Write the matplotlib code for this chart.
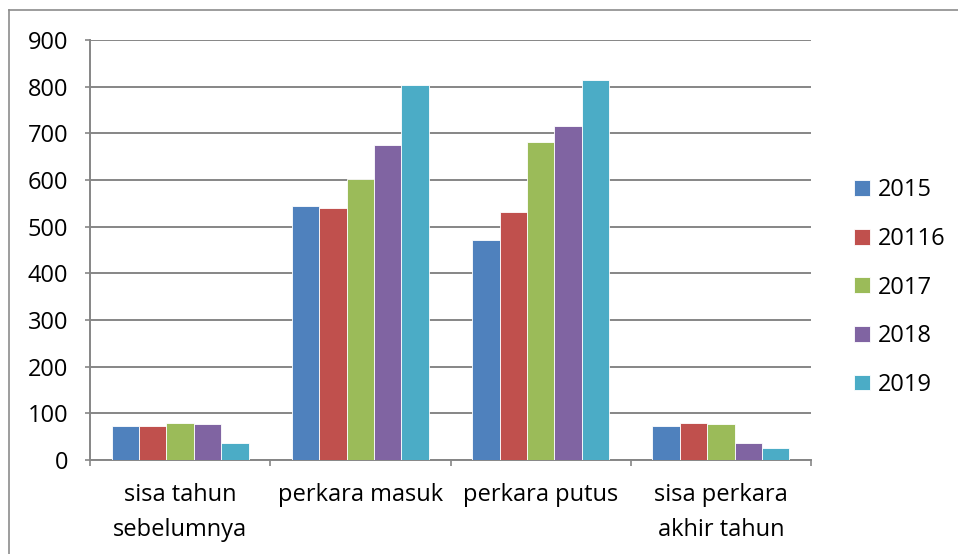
import matplotlib
matplotlib.use("Agg")
import matplotlib.pyplot as plt
import numpy as np
from matplotlib.lines import Line2D

plt.rcParams.update({"font.family": ["Open Sans", "DejaVu Sans"]})

categories = ["sisa tahun\nsebelumnya", "perkara masuk", "perkara putus",
              "sisa perkara\nakhir tahun"]
series_names = ["2015", "20116", "2017", "2018", "2019"]
v2015 = [72, 544, 472, 72]
v2016 = [72, 539, 532, 80]
v2017 = [80, 602, 682, 78]
v2018 = [78, 676, 716, 37]
v2019 = [37, 803, 814, 25]
values = [v2015, v2016, v2017, v2018, v2019]
colors = ["#4F81BD", "#C0504D", "#9BBB59", "#8064A2", "#4BACC6"]
GRID = "#868686"
FS = 17

W, H = 958, 554
fig = plt.figure(figsize=(W / 100, H / 100), dpi=100)
ax = fig.add_axes([90 / W, 1 - 460 / H, (811 - 90) / W, (460 - 40) / H])

x = np.arange(len(categories))
w = 0.152
for i, (name, vals) in enumerate(zip(series_names, values)):
    ax.bar(x + (i - 2) * w, vals, width=w, color=colors[i], label=name,
           edgecolor="white", linewidth=0.6, zorder=3)

ax.set_xlim(-0.5, len(categories) - 0.5)
ax.set_ylim(0, 900)
ax.set_yticks(range(0, 901, 100))
ax.yaxis.grid(True, color=GRID, linewidth=1.4, zorder=0)
ax.tick_params(axis="y", length=3.6, width=1.2, color=GRID, labelsize=FS, pad=12)

ax.set_xticks(x)
ax.set_xticklabels(categories, fontsize=FS, linespacing=1.6)
ax.set_xticks(np.arange(-0.5, len(categories), 1.0), minor=True)
ax.tick_params(axis="x", which="major", length=0, pad=16.5)
ax.tick_params(axis="x", which="minor", length=4.5, width=1.2, color=GRID)

for side in ("top", "right"):
    ax.spines[side].set_visible(False)
for side in ("left", "bottom"):
    ax.spines[side].set_color(GRID)
    ax.spines[side].set_linewidth(1.4)

fig.legend(loc="upper left", bbox_to_anchor=(845 / W, 1 - 169 / H),
           frameon=False, fontsize=FS, handlelength=0.64, handleheight=0.64,
           handletextpad=0.34, labelspacing=1.04, borderaxespad=0)

# chart border: only top and left edges show in the crop
bx, by = 8.5 / W, 1 - 10 / H
fig.lines.append(Line2D([bx, 1], [by, by], transform=fig.transFigure,
                        color="#8C8C8C", linewidth=1.2))
fig.lines.append(Line2D([bx, bx], [0, by], transform=fig.transFigure,
                        color="#8C8C8C", linewidth=1.2))

fig.savefig("out.png", dpi=100)
